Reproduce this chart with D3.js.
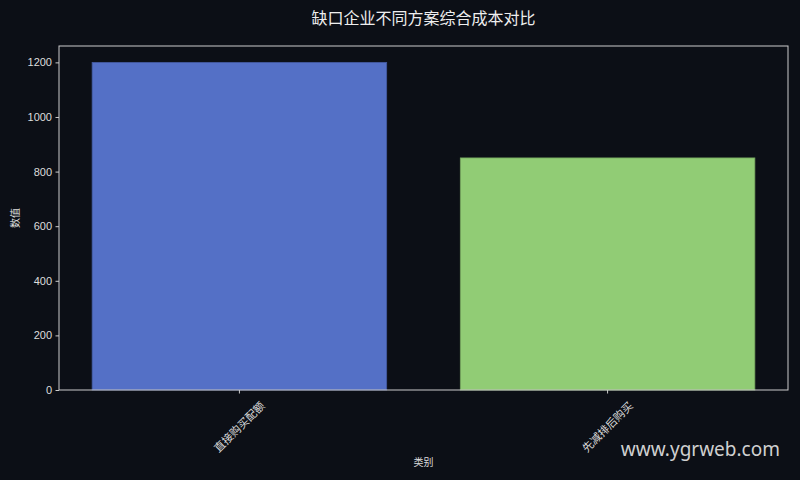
<!DOCTYPE html>
<html>
<head>
<meta charset="utf-8">
<script src="https://cdn.jsdelivr.net/npm/d3@7"></script>
<style>
  html, body { margin: 0; padding: 0; background: #0c0f16; }
  svg { display: block; }
</style>
</head>
<body>
<div id="chart"></div>
<script>
// chart data
const categories = ["直接购买配额", "先减排后购买"];
const values = [1200, 850];
const colors = ["#5470c6", "#91cc75"];
const yTicks = [0, 200, 400, 600, 800, 1000, 1200];

const width = 800, height = 480;
const margin = { top: 46, right: 12, bottom: 90, left: 59 };
const font = "'Noto Sans CJK SC', 'DejaVu Sans', sans-serif";

const svg = d3.select("#chart")
              .append("svg")
              .attr("width", width)
              .attr("height", height);

svg.append("rect")
   .attr("width", width)
   .attr("height", height)
   .attr("fill", "#0c0f16");

const x = d3.scaleBand()
            .domain(categories)
            .range([margin.left, width - margin.right])
            .paddingInner(0.2)
            .paddingOuter(0.09);

const y = d3.scaleLinear()
            .domain([0, d3.max(values) * 1.05])
            .range([height - margin.bottom, margin.top]);

// bars
svg.selectAll(".bar")
   .data(values)
   .enter()
   .append("rect")
   .attr("class", "bar")
   .attr("x", (d, i) => x(categories[i]))
   .attr("width", x.bandwidth())
   .attr("y", d => y(d))
   .attr("height", d => y(0) - y(d))
   .attr("fill", (d, i) => colors[i])
   .attr("stroke", (d, i) => d3.color(colors[i]).darker(0.6))
   .attr("stroke-width", 0.8);

// y axis
const yAxis = svg.append("g")
                 .attr("transform", `translate(${margin.left},0)`)
                 .call(d3.axisLeft(y).tickValues(yTicks).tickFormat(d3.format("d"))
                         .tickSize(3.5).tickPadding(3.5));
yAxis.select(".domain").remove();
yAxis.selectAll("line").attr("stroke", "#cccccc");
yAxis.selectAll("text")
     .style("fill", "#dddddd")
     .style("font-family", "'Liberation Sans', Arial, sans-serif")
     .style("font-size", "11px");

// x axis
const xAxis = svg.append("g")
                 .attr("transform", `translate(0,${height - margin.bottom})`)
                 .call(d3.axisBottom(x).tickSize(3.5).tickPadding(0));
xAxis.select(".domain").remove();
xAxis.selectAll("line").attr("stroke", "#cccccc");
xAxis.selectAll("text")
     .style("fill", "#dddddd")
     .attr("y", 0)
     .attr("dy", "0.35em")
     .style("text-anchor", "middle")
     .style("font-family", font)
     .style("font-size", "11px")
     .attr("transform", "translate(0,37) rotate(-45)");

// frame
svg.append("rect")
   .attr("x", margin.left)
   .attr("y", margin.top)
   .attr("width", width - margin.right - margin.left)
   .attr("height", height - margin.bottom - margin.top)
   .attr("fill", "none")
   .attr("stroke", "#cccccc")
   .attr("stroke-width", 1);

// title and axis labels
svg.append("text")
   .attr("x", (margin.left + width - margin.right) / 2)
   .attr("y", 24)
   .attr("text-anchor", "middle")
   .style("fill", "#eeeeee")
   .style("font-family", font)
   .style("font-size", "16px")
   .text("缺口企业不同方案综合成本对比");

svg.append("text")
   .attr("x", (margin.left + width - margin.right) / 2)
   .attr("y", 466)
   .attr("text-anchor", "middle")
   .style("fill", "#dddddd")
   .style("font-family", font)
   .style("font-size", "10px")
   .text("类别");

svg.append("text")
   .attr("transform", `translate(19,${(margin.top + height - margin.bottom) / 2}) rotate(-90)`)
   .attr("text-anchor", "middle")
   .style("fill", "#dddddd")
   .style("font-family", font)
   .style("font-size", "10px")
   .text("数值");

// watermark
svg.append("text")
   .attr("x", 780)
   .attr("y", 456)
   .attr("text-anchor", "end")
   .style("fill", "#d0d0d0")
   .style("font-family", "'Noto Sans', 'DejaVu Sans', sans-serif")
   .style("font-size", "19px")
   .text("www.ygrweb.com");
</script>
</body>
</html>
